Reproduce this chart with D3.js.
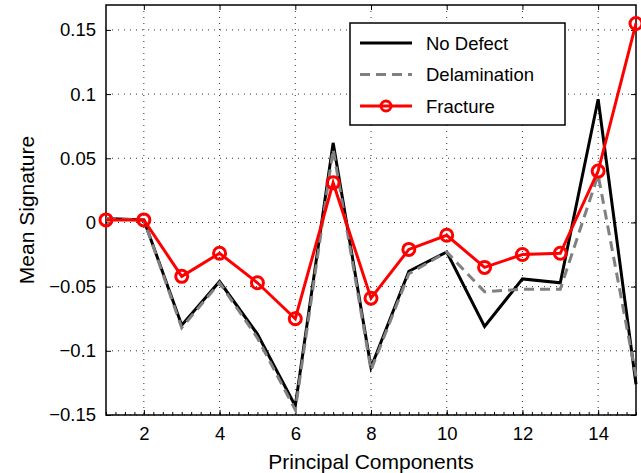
<!DOCTYPE html>
<html>
<head>
<meta charset="utf-8">
<script src="https://cdn.jsdelivr.net/npm/d3@7"></script>
<style>
body { margin: 0; background: #fff; }
text { font-family: "Liberation Sans", Arial, sans-serif; }
</style>
</head>
<body>
<div id="chart"></div>
<script>
// chart values
var components = [1, 2, 3, 4, 5, 6, 7, 8, 9, 10, 11, 12, 13, 14, 15];
var noDefect = [0.003, 0.002, -0.080, -0.046, -0.087, -0.143, 0.062, -0.113, -0.038, -0.023, -0.081, -0.044, -0.047, 0.096, -0.126];
var delamination = [0.003, 0.002, -0.082, -0.047, -0.090, -0.146, 0.057, -0.115, -0.040, -0.023, -0.054, -0.052, -0.052, 0.037, -0.120];
var fracture = [0.002, 0.002, -0.042, -0.024, -0.047, -0.075, 0.031, -0.059, -0.021, -0.010, -0.035, -0.025, -0.024, 0.040, 0.155];
var xTicks = [2, 4, 6, 8, 10, 12, 14];
var yTicks = [-0.15, -0.1, -0.05, 0, 0.05, 0.1, 0.15];
var seriesNames = ["No Defect", "Delamination", "Fracture"];

var width = 641, height = 473;
var margin = {top: 5, right: 5, bottom: 58, left: 106};
var w = width - margin.left - margin.right;
var h = height - margin.top - margin.bottom;

var svg = d3.select("#chart").append("svg")
	.attr("width", width)
	.attr("height", height);
var g = svg.append("g").attr("transform", "translate(" + margin.left + "," + margin.top + ")");

var x = d3.scaleLinear().domain([1, 15]).range([0, w]);
var y = d3.scaleLinear().domain([-0.15, 0.1694]).range([h, 0]);

// dotted grid
g.append("g").selectAll("line")
	.data(xTicks)
	.enter()
	.append("line")
	.attr("x1", function(d){ return x(d); })
	.attr("x2", function(d){ return x(d); })
	.attr("y1", 0)
	.attr("y2", h)
	.style("stroke", "#333")
	.style("stroke-width", 1)
	.style("stroke-dasharray", "1,5");
g.append("g").selectAll("line")
	.data(yTicks)
	.enter()
	.append("line")
	.attr("x1", 0)
	.attr("x2", w)
	.attr("y1", function(d){ return y(d); })
	.attr("y2", function(d){ return y(d); })
	.style("stroke", "#333")
	.style("stroke-width", 1)
	.style("stroke-dasharray", "1,5");

// axes with inward ticks
var fmt = function(d){ return d === 0 ? "0" : d3.format("")(d).replace("-", "\u2212"); };
g.append("g")
	.attr("transform", "translate(0," + h + ")")
	.call(d3.axisBottom(x).tickValues(xTicks).tickSizeInner(-5).tickSizeOuter(0).tickPadding(12));
g.append("g")
	.call(d3.axisLeft(y).tickValues(yTicks).tickFormat(fmt).tickSizeInner(-5).tickSizeOuter(0).tickPadding(10));
g.append("g")
	.call(d3.axisTop(x).tickValues(xTicks).tickSizeInner(-5).tickSizeOuter(0).tickFormat(""));
g.append("g")
	.attr("transform", "translate(" + w + ",0)")
	.call(d3.axisRight(y).tickValues(yTicks).tickSizeInner(-5).tickSizeOuter(0).tickFormat(""));
// minor ticks on x
g.append("g")
	.attr("transform", "translate(0," + h + ")")
	.call(d3.axisBottom(x).tickValues(d3.range(1, 15.01, 0.25)).tickSizeInner(-3).tickSizeOuter(0).tickFormat(""));

g.selectAll(".domain").remove();
g.selectAll(".tick line").style("stroke", "#000").style("stroke-width", 1);
g.selectAll(".tick text").style("font-size", "18.5px").style("fill", "#000");

// box
g.append("rect")
	.attr("width", w)
	.attr("height", h)
	.style("fill", "none")
	.style("stroke", "#000")
	.style("stroke-width", 1.5);

var line = d3.line()
	.x(function(d, i){ return x(components[i]); })
	.y(function(d){ return y(d); });

g.append("path")
	.datum(noDefect)
	.attr("d", line)
	.style("fill", "none")
	.style("stroke", "#000")
	.style("stroke-width", 3);
g.append("path")
	.datum(delamination)
	.attr("d", line)
	.style("fill", "none")
	.style("stroke", "#808080")
	.style("stroke-width", 3)
	.style("stroke-dasharray", "10,6");
g.append("path")
	.datum(fracture)
	.attr("d", line)
	.style("fill", "none")
	.style("stroke", "#ff0000")
	.style("stroke-width", 3);
g.append("g").selectAll("circle")
	.data(fracture)
	.enter()
	.append("circle")
	.attr("cx", function(d, i){ return x(components[i]); })
	.attr("cy", function(d){ return y(d); })
	.attr("r", 6)
	.style("fill", "none")
	.style("stroke", "#ff0000")
	.style("stroke-width", 3);

// legend
var legend = svg.append("g").attr("transform", "translate(350,23)");
legend.append("rect")
	.attr("width", 215)
	.attr("height", 102)
	.style("fill", "#fff")
	.style("stroke", "#000")
	.style("stroke-width", 1.5);
var legendStyles = [
	{color: "#000", dash: null, marker: false},
	{color: "#808080", dash: "10,6", marker: false},
	{color: "#ff0000", dash: null, marker: true}
];
seriesNames.forEach(function(name, i){
	var ly = 20 + i * 31.5;
	legend.append("line")
		.attr("x1", 10)
		.attr("x2", 62)
		.attr("y1", ly)
		.attr("y2", ly)
		.style("stroke", legendStyles[i].color)
		.style("stroke-width", 3)
		.style("stroke-dasharray", legendStyles[i].dash);
	if (legendStyles[i].marker) {
		legend.append("circle")
			.attr("cx", 36)
			.attr("cy", ly)
			.attr("r", 5)
			.style("fill", "none")
			.style("stroke", legendStyles[i].color)
			.style("stroke-width", 3);
	}
	legend.append("text")
		.attr("x", 76)
		.attr("y", ly + 6.5)
		.style("font-size", "18.5px")
		.text(name);
});

// axis labels
svg.append("text")
	.attr("x", margin.left + w / 2)
	.attr("y", 469)
	.style("text-anchor", "middle")
	.style("font-size", "21px")
	.text("Principal Components");
svg.append("text")
	.attr("transform", "translate(34," + (margin.top + h / 2) + ") rotate(-90)")
	.style("text-anchor", "middle")
	.style("font-size", "21px")
	.text("Mean Signature");
</script>
</body>
</html>
